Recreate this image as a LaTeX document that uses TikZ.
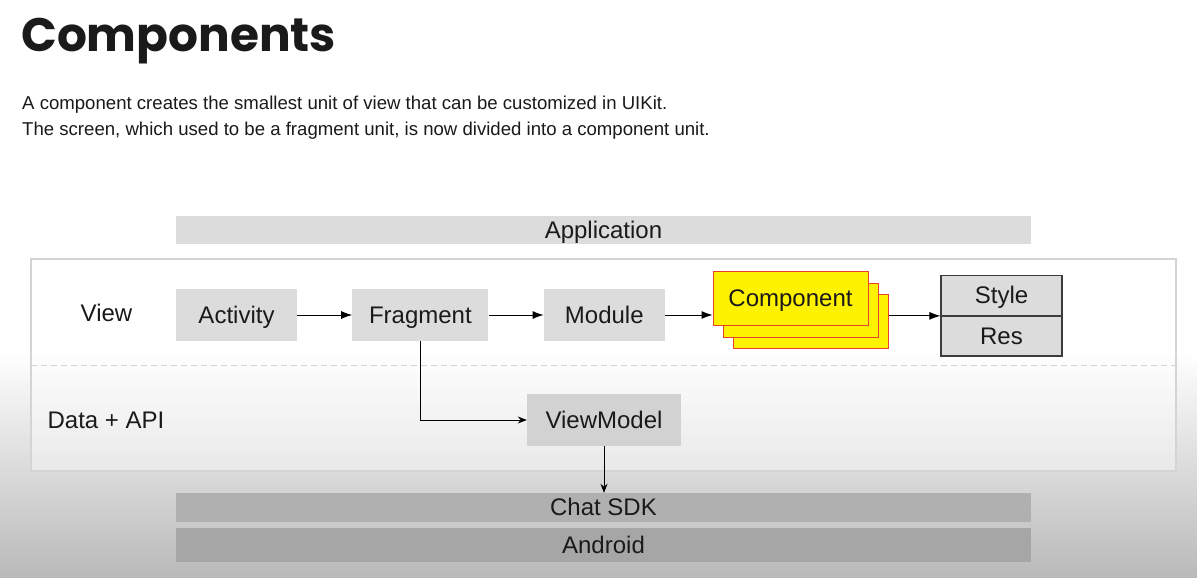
\documentclass[tikz,border=0pt]{standalone}
\usepackage{fontspec}
\setmainfont{Liberation Sans}
\newfontfamily\titlefont{Poppins}
\usepackage{tikz}
\usetikzlibrary{positioning, arrows.meta, shapes}
\usepackage{xcolor}
\definecolor{boxgray}{HTML}{DCDCDC}
\definecolor{vmgray}{HTML}{D2D2D2}
\definecolor{sdkgray}{HTML}{B0B0B0}
\definecolor{osgray}{HTML}{A6A6A6}
\definecolor{bggray}{HTML}{B9B9B9}
\definecolor{panelc}{HTML}{D4D4D4}
\definecolor{compred}{HTML}{E8412A}
\definecolor{srline}{HTML}{3C3C3C}
\definecolor{textc}{HTML}{1A1A1A}

\begin{document}
\begin{tikzpicture}[x=1pt, y=-1pt, node distance=55pt,
		box/.style={fill=boxgray, minimum height=52pt, inner sep=0pt, text=textc, text height=16pt, text depth=0pt, font=\fontsize{24}{28}\selectfont},
		layer/.style={box, minimum width=855pt},
		comp/.style={draw=compred, fill=yellow, line width=0.9pt, minimum width=155pt, minimum height=54pt, inner sep=0pt, text=textc, text height=16pt, text depth=0pt, font=\fontsize{24}{28}\selectfont},
		srbox/.style={box, draw=srline, line width=1.2pt, minimum width=121pt, minimum height=39.5pt},
		lbl/.style={text=textc, text height=16pt, text depth=0pt, font=\fontsize{24}{28}\selectfont},
		arr/.style={-{Latex[length=11pt,width=8pt]}, line width=0.9pt},
		arrs/.style={-{Stealth[length=9pt,width=7pt]}, line width=0.8pt}]
		% background
		\fill[white] (0,0) rectangle (1197,578);
		\useasboundingbox (0,0) rectangle (1197,578);
		\shade[top color=white, bottom color=bggray] (0,352) rectangle (1197,578);
		
		% heading
		\node[anchor=base west, inner sep=0pt, text=textc, font=\titlefont\bfseries\fontsize{47}{54}\selectfont] (ttl) at (21,52) {Components};
		\node[anchor=base west, inner sep=0pt, text=textc, font=\fontsize{18.6}{22}\selectfont] (sub1) at (22,109) {A component creates the smallest unit of view that can be customized in UIKit.};
		\node[anchor=base west, inner sep=0pt, text=textc, font=\fontsize{18.6}{22}\selectfont] (sub2) at (22,135) {The screen, which used to be a fragment unit, is now divided into a component unit.};
		
		% panel
		\draw[panelc, line width=1.5pt, fill=white, fill opacity=0.4] (31,259) rectangle (1176,471);
		\draw[panelc, line width=1pt, dash pattern=on 6pt off 4pt] (31,365) -- (1176,365);
		
		\node[layer, minimum height=28pt] (app) at (603.5,230) {Application};
		\node[lbl] (view) at (106.5,313) {View};
		\node[lbl] (data) at (106,420) {Data + API};
		
		\node[box, minimum width=121pt] (act) at (236.5,315) {Activity};
		\node[box, minimum width=136pt, right=of act] (frag) {Fragment};
		\node[box, minimum width=121pt, right=of frag] (mod) {Module};
		
		\node[comp] (c3) at (811,321) {};
		\node[comp] (c2) at (800.5,310) {};
		\node[comp] (c1) at (790.5,298) {Component};
		
		\node[srbox] (sty) at (1001.5,295.5) {Style};
		\node[srbox, below=0pt of sty] (res) {Res};
		
		\node[box, fill=vmgray, minimum width=154pt] (vm) at (604,420) {ViewModel};
		\node[layer, fill=sdkgray, minimum height=29pt] (sdk) at (603.5,507.5) {Chat SDK};
		\node[layer, fill=osgray, minimum height=34pt] (os) at (603.5,545) {Android};
		
		\draw (act) edge[arr] (frag);
		\draw (frag) edge[arr] (mod);
		\draw[arr] (mod.east) -- (mod.east -| c1.west);
		\draw[arr] (c3.east |- sty.south) -- (sty.south west);
		\draw[arrs] (frag.south) |- (vm.west);
		\draw[arrs] (vm.south) -- (vm.south |- sdk.north);
		
\end{tikzpicture}
\end{document}
